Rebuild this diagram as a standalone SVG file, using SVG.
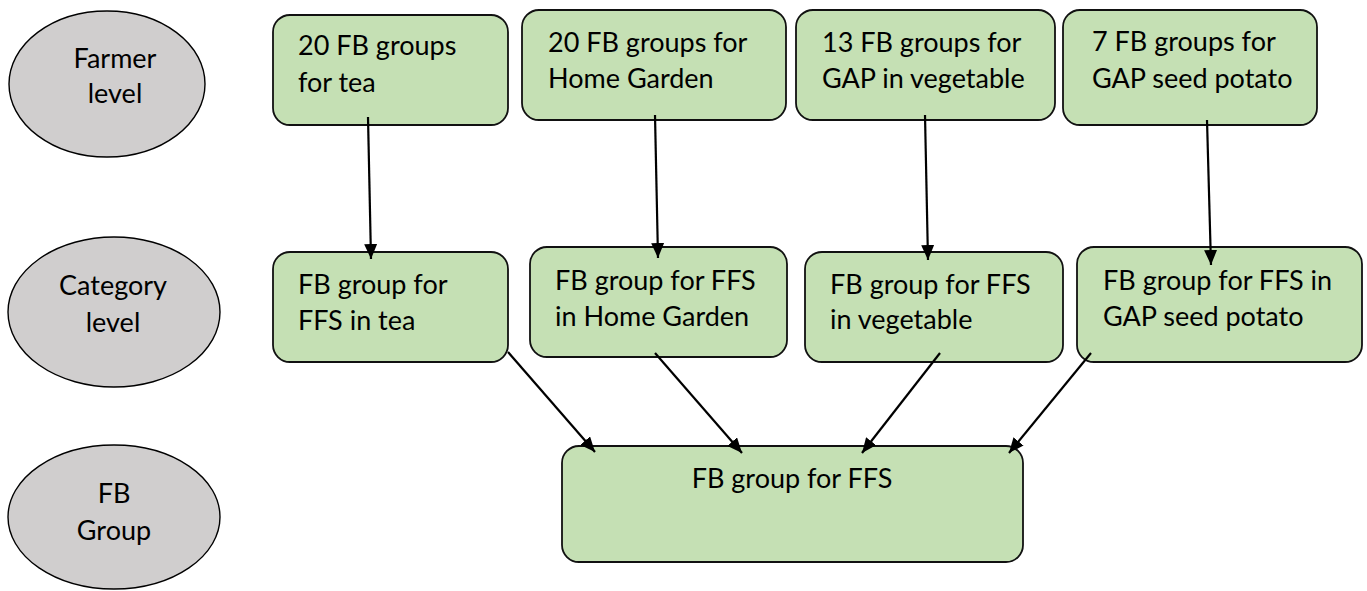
<svg xmlns="http://www.w3.org/2000/svg" width="1367" height="591" viewBox="0 0 1367 591">
  <style>
    .lvl { fill: #d0cece; stroke: #000; stroke-width: 1.4; }
    .box { fill: #c5e0b4; stroke: #111; stroke-width: 1.8; }
    .t { font-family: Lato, "Liberation Sans", sans-serif; font-size: 27px; fill: #000; }
    .c { text-anchor: middle; }
    .conn { stroke: #000; stroke-width: 2.2; fill: none; marker-end: url(#ah); }
  </style>
  <defs>
    <marker id="ah" markerUnits="userSpaceOnUse" markerWidth="17" markerHeight="13" refX="15" refY="6.5" orient="auto">
      <path d="M0,0 L15,6.5 L0,13 z" fill="#000"/>
    </marker>
  </defs>
  <rect width="1367" height="591" fill="#fff"/>

  <g id="farmer-level">
    <ellipse class="lvl" cx="107" cy="84" rx="98" ry="73"/>
    <text class="t c" x="115" y="68" font-size="25">Farmer</text>
    <text class="t c" x="115" y="103" font-size="25">level</text>
  </g>
  <g id="category-level">
    <ellipse class="lvl" cx="114" cy="312" rx="106" ry="75"/>
    <text class="t c" x="113" y="295">Category</text>
    <text class="t c" x="113" y="332">level</text>
  </g>
  <g id="fb-group-level">
    <ellipse class="lvl" cx="114" cy="517" rx="106" ry="72"/>
    <text class="t c" x="114" y="503">FB</text>
    <text class="t c" x="114" y="540">Group</text>
  </g>

  <g id="farmer-tea">
    <rect class="box" x="273" y="15" width="235" height="110" rx="17"/>
    <text class="t" x="298" y="55">20 FB groups</text>
    <text class="t" x="298" y="92">for tea</text>
  </g>
  <g id="farmer-home">
    <rect class="box" x="522" y="10" width="264" height="110" rx="17"/>
    <text class="t" x="548" y="52">20 FB groups for</text>
    <text class="t" x="548" y="88">Home Garden</text>
  </g>
  <g id="farmer-veg">
    <rect class="box" x="796" y="10" width="259" height="110" rx="17"/>
    <text class="t" x="822" y="52">13 FB groups for</text>
    <text class="t" x="822" y="88">GAP in vegetable</text>
  </g>
  <g id="farmer-potato">
    <rect class="box" x="1063" y="10" width="254" height="115" rx="17"/>
    <text class="t" x="1092" y="51">7 FB groups for</text>
    <text class="t" x="1092" y="88">GAP seed potato</text>
  </g>

  <g id="cat-tea">
    <rect class="box" x="273" y="252" width="235" height="110" rx="17"/>
    <text class="t" x="298" y="294">FB group for</text>
    <text class="t" x="298" y="330">FFS in tea</text>
  </g>
  <g id="cat-home">
    <rect class="box" x="530" y="247" width="257" height="110" rx="17"/>
    <text class="t" x="555" y="290">FB group for FFS</text>
    <text class="t" x="555" y="326">in Home Garden</text>
  </g>
  <g id="cat-veg">
    <rect class="box" x="805" y="252" width="258" height="110" rx="17"/>
    <text class="t" x="830" y="294">FB group for FFS</text>
    <text class="t" x="830" y="329">in vegetable</text>
  </g>
  <g id="cat-potato">
    <rect class="box" x="1077" y="247" width="285" height="115" rx="17"/>
    <text class="t" x="1103" y="290">FB group for FFS in</text>
    <text class="t" x="1103" y="326">GAP seed potato</text>
  </g>

  <g id="fb-group-ffs">
    <rect class="box" x="562" y="446" width="461" height="116" rx="17"/>
    <text class="t c" x="792" y="488">FB group for FFS</text>
  </g>

  <g id="connectors">
    <line class="conn" x1="368" y1="117" x2="371" y2="259"/>
    <line class="conn" x1="655" y1="115" x2="658" y2="258"/>
    <line class="conn" x1="925" y1="115" x2="928" y2="260"/>
    <line class="conn" x1="1207" y1="120" x2="1211" y2="265"/>
    <line class="conn" x1="508" y1="352" x2="595" y2="452"/>
    <line class="conn" x1="655" y1="353" x2="742" y2="453"/>
    <line class="conn" x1="940" y1="353" x2="862" y2="453"/>
    <line class="conn" x1="1091" y1="353" x2="1009" y2="453"/>
  </g>
</svg>
